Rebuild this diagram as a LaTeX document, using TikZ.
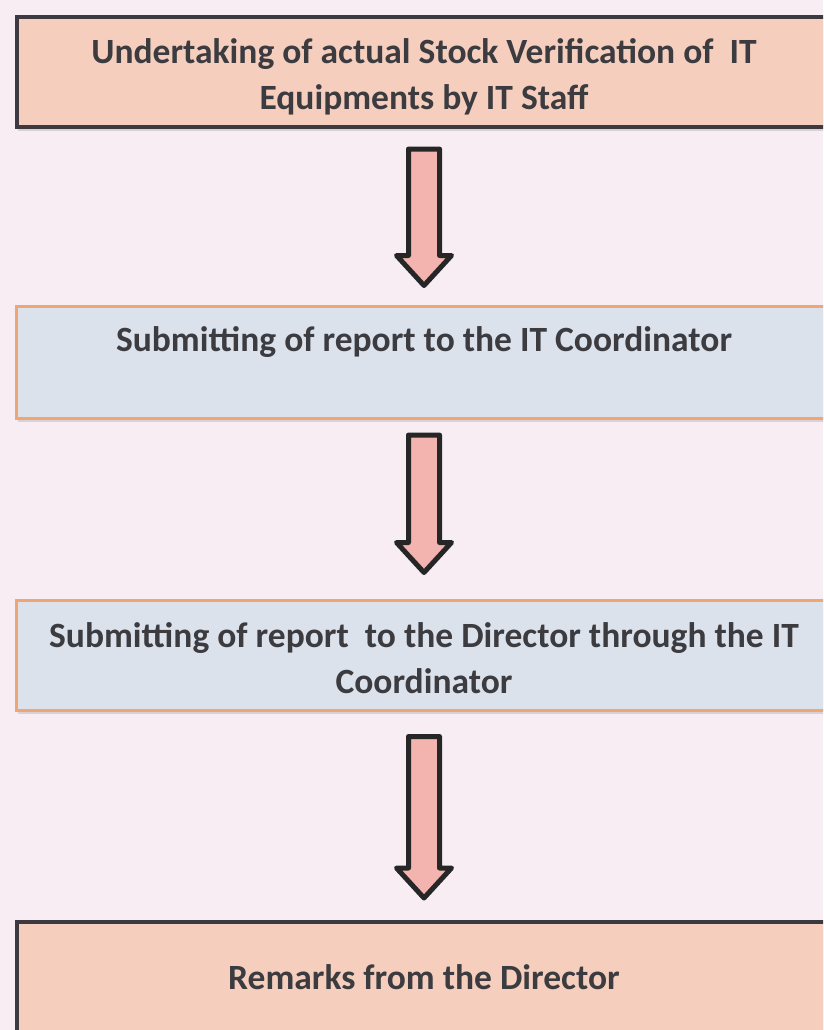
\documentclass[tikz,border=0pt]{standalone}
\usepackage{fontspec}
\setmainfont{Carlito}
\usetikzlibrary{calc, shadows}

\definecolor{paper}{HTML}{F7EDF2}
\definecolor{peach}{HTML}{F5CEBD}
\definecolor{bluegray}{HTML}{DCE2EC}
\definecolor{orangeline}{HTML}{EFA675}
\definecolor{darkline}{HTML}{3C3A40}
\definecolor{arrowpink}{HTML}{F3B3AE}
\definecolor{textgray}{HTML}{3B3B40}

% block arrow between two boxes: from, to, top gap, tip gap
\newcommand{\flowarrow}[4]{%
  \draw[blockarrow] let \p1=(#1.south), \p2=(#2.north) in
    (\x1-15.5pt,\y1-#3) -- (\x1+15.5pt,\y1-#3) -- (\x1+15.5pt,\y2+#4+30pt)
    -- (\x1+27.5pt,\y2+#4+30pt) -- (\x1,\y2+#4) -- (\x1-27.5pt,\y2+#4+30pt)
    -- (\x1-15.5pt,\y2+#4+30pt) -- cycle;}

\begin{document}
\begin{tikzpicture}[
    x=1pt, y=1pt,
    stepbox/.style={anchor=north, minimum width=815pt, inner ysep=0pt, align=center,
      text=textgray, font=\bfseries\fontsize{35.5}{46}\selectfont,
      drop shadow={shadow xshift=1pt, shadow yshift=-4pt, opacity=0.25}},
    peachbox/.style={stepbox, draw=darkline, line width=4pt, fill=peach},
    bluebox/.style={stepbox, draw=orangeline, line width=3pt, fill=bluegray},
    blockarrow/.style={draw=black!85, line width=5pt, line join=round, fill=arrowpink}
  ]

  % Page
  \clip (0,0) rectangle (823,-1030);
  \useasboundingbox (0,0) rectangle (823,-1030);
  \fill[paper] (0,0) rectangle (823,-1030);

  % Boxes
  \node[peachbox, text height=93pt, text depth=17pt] (verify) at (424,-15)
    {Undertaking of actual Stock Verification of\ \ IT\\Equipments by IT Staff};
  \node[bluebox, text height=45.5pt, text depth=66.5pt] (report) at (424,-304.5)
    {Submitting of report to the IT Coordinator};
  \node[bluebox, text height=93.5pt, text depth=16.5pt] (director) at (424,-598.5)
    {Submitting of report\ \ to the Director through the IT\\Coordinator};
  \node[peachbox, text height=67pt, text depth=100pt] (remarks) at (424,-920)
    {Remarks from the Director};

  % Arrows
  \flowarrow{verify}{report}{20pt}{19pt}
  \flowarrow{report}{director}{15.5pt}{26pt}
  \flowarrow{director}{remarks}{25pt}{22pt}

\end{tikzpicture}
\end{document}
